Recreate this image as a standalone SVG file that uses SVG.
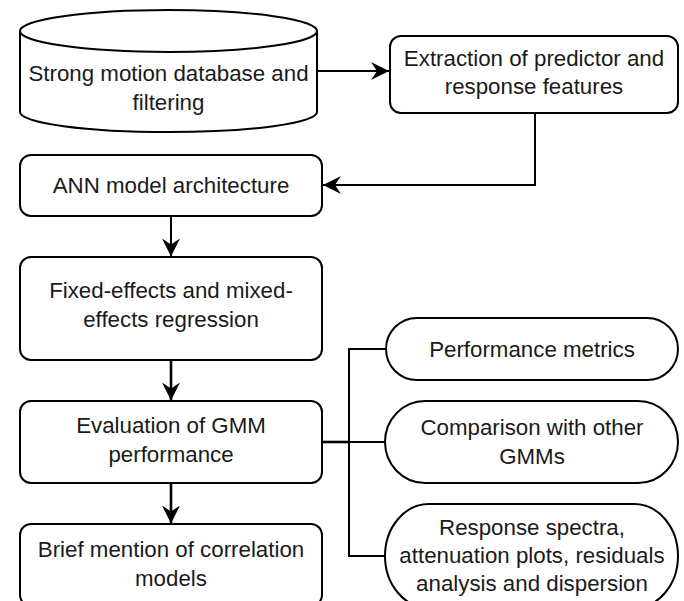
<svg xmlns="http://www.w3.org/2000/svg" width="684" height="601" viewBox="0 0 684 601">
  <defs>
    <style>
      .shape { fill: #ffffff; stroke: #000000; stroke-width: 2; }
      .lbl { font-family: "Liberation Sans", Arial, sans-serif; font-size: 22.3px; fill: #1a1a1a; text-anchor: middle; }
      .conn { fill: none; stroke: #000000; stroke-width: 2; }
      .thick { stroke-width: 2.6; }
    </style>
    <marker id="arrow" markerUnits="userSpaceOnUse" markerWidth="19" markerHeight="19" viewBox="0 0 19 19" refX="18" refY="9" orient="auto">
      <path d="M0,0 L18,9 L0,18 L6,9 Z" fill="#000000"/>
    </marker>
  </defs>
  <rect width="684" height="601" fill="#ffffff"/>

  <g id="connectors">
    <path class="conn" d="M317,71 L389,71" marker-end="url(#arrow)"/>
    <path class="conn" d="M349,71 L357,71" stroke-width="3.5"/>
    <path class="conn" d="M535,113 L535,185 L323,185" marker-end="url(#arrow)"/>
    <path class="conn" d="M171,216 L171,256.5" stroke-width="1.6" marker-end="url(#arrow)"/>
    <path class="conn thick" d="M171,360 L171,400.5" marker-end="url(#arrow)"/>
    <path class="conn thick" d="M171,483 L171,523.5" marker-end="url(#arrow)"/>
    <path class="conn thick" d="M322,442 L349,442"/>
    <path class="conn" d="M386,349 L349,349 L349,556 L385,556"/>
    <path class="conn" d="M349,442 L385,442"/>
  </g>

  <g id="node-database">
    <path class="shape" d="M20,31 A148.5,21 0 0 1 317,31 L317,112 A148.5,20 0 0 1 20,112 Z"/>
    <path class="shape" fill="none" d="M20,31 A148.5,21 0 0 0 317,31"/>
    <text class="lbl" x="168.5" y="81">Strong motion database and</text>
    <text class="lbl" x="168.5" y="110">filtering</text>
  </g>

  <g id="node-extraction">
    <rect class="shape" x="390" y="36" width="288" height="77" rx="11" ry="11"/>
    <text class="lbl" x="534" y="66">Extraction of predictor and</text>
    <text class="lbl" x="534" y="94">response features</text>
  </g>

  <g id="node-ann">
    <rect class="shape" x="20" y="155" width="302" height="61" rx="11" ry="11"/>
    <text class="lbl" x="171" y="193">ANN model architecture</text>
  </g>

  <g id="node-regression">
    <rect class="shape" x="20" y="257" width="302" height="103" rx="11" ry="11"/>
    <text class="lbl" x="171" y="298">Fixed-effects and mixed-</text>
    <text class="lbl" x="171" y="327">effects regression</text>
  </g>

  <g id="node-evaluation">
    <rect class="shape" x="20" y="401" width="302" height="82" rx="11" ry="11"/>
    <text class="lbl" x="171" y="433">Evaluation of GMM</text>
    <text class="lbl" x="171" y="462">performance</text>
  </g>

  <g id="node-correlation">
    <rect class="shape" x="20" y="524" width="302" height="82" rx="11" ry="11"/>
    <text class="lbl" x="171" y="557">Brief mention of correlation</text>
    <text class="lbl" x="171" y="586">models</text>
  </g>

  <g id="node-metrics">
    <rect class="shape" x="386" y="318" width="292" height="62" rx="31" ry="31"/>
    <text class="lbl" x="532" y="357">Performance metrics</text>
  </g>

  <g id="node-comparison">
    <rect class="shape" x="385" y="401" width="293" height="82" rx="40" ry="41"/>
    <text class="lbl" x="532" y="435">Comparison with other</text>
    <text class="lbl" x="532" y="464">GMMs</text>
  </g>

  <g id="node-spectra">
    <rect class="shape" x="385" y="504" width="293" height="104" rx="44" ry="52"/>
    <text class="lbl" x="532" y="535">Response spectra,</text>
    <text class="lbl" x="532" y="563">attenuation plots, residuals</text>
    <text class="lbl" x="532" y="591">analysis and dispersion</text>
  </g>
</svg>
